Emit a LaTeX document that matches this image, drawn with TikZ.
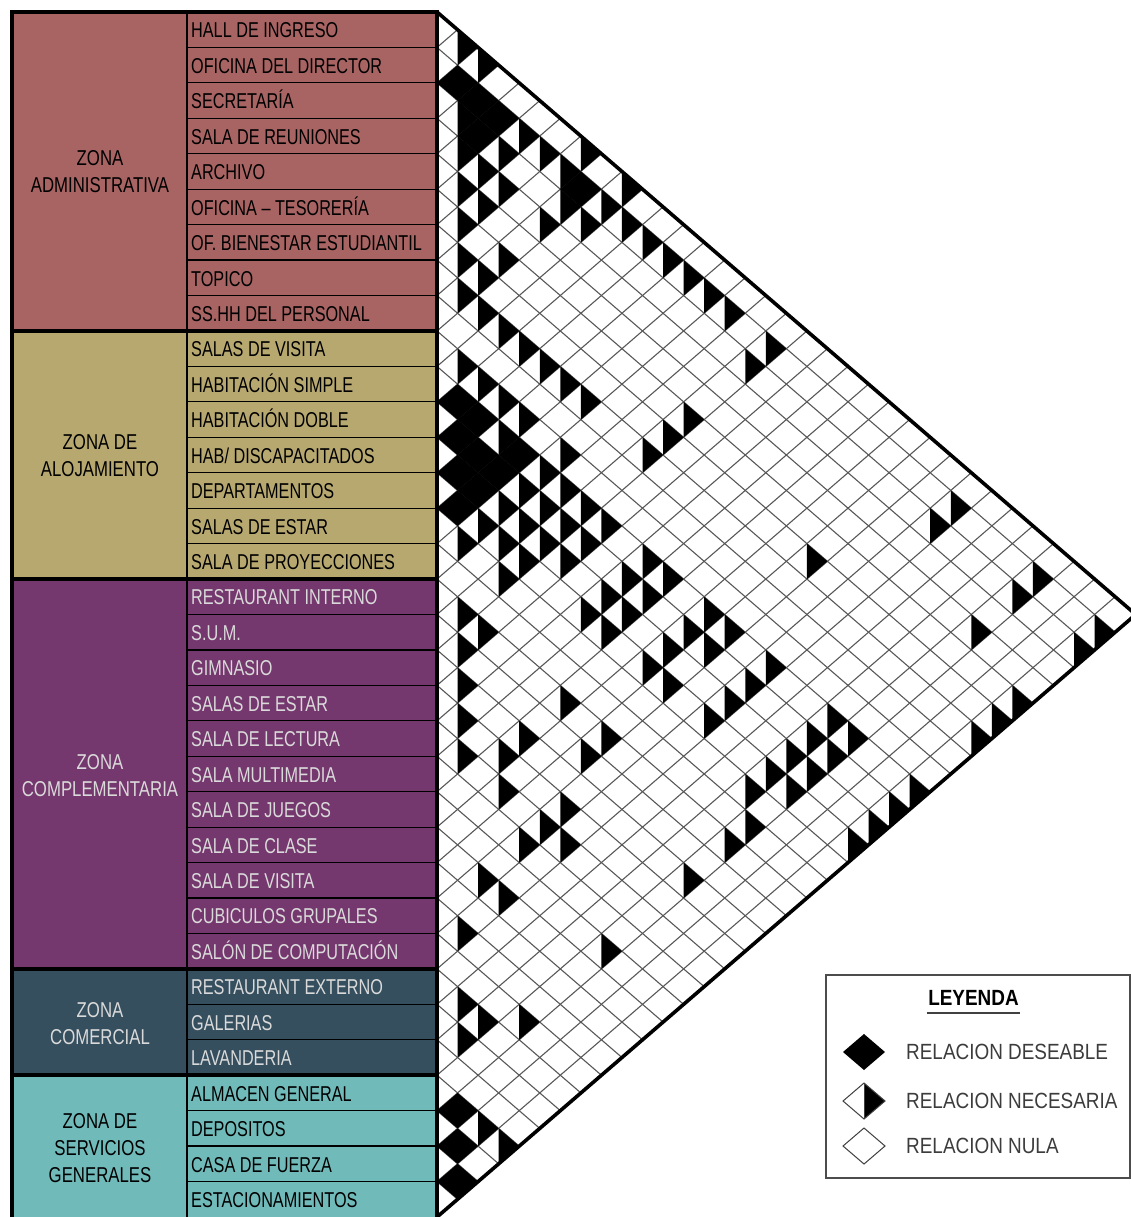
\documentclass[tikz,border=0pt]{standalone}
\usepackage{fontspec}
\setmainfont{Liberation Sans}
\newfontfamily\narrowsf[FakeStretch=0.755]{Liberation Sans}
\newfontfamily\zonesf[FakeStretch=0.78]{Liberation Sans}
\newfontfamily\legendsf[FakeStretch=0.86]{Liberation Sans}

\definecolor{admfill}{RGB}{168,99,99}
\definecolor{alofill}{RGB}{183,168,112}
\definecolor{cmpfill}{RGB}{117,56,110}
\definecolor{comfill}{RGB}{53,79,95}
\definecolor{serfill}{RGB}{113,186,186}
\definecolor{lighttxt}{RGB}{218,218,218}
\definecolor{meshgray}{RGB}{88,88,88}
\definecolor{legtxt}{RGB}{60,60,60}

% relation cells of the triangular matrix: pair (i,j), i<j
\newcommand\pairN[2]{%
  \pgfmathsetmacro\pcx{437+(#2-#1)*20.55}%
  \pgfmathsetmacro\pcy{12+(#1+#2-1)*17.72}%
  \fill[black] (\pcx,\pcy-17.72) -- (\pcx+20.55,\pcy) -- (\pcx,\pcy+17.72) -- cycle;}
\newcommand\pairD[2]{%
  \pgfmathsetmacro\pcx{437+(#2-#1)*20.55}%
  \pgfmathsetmacro\pcy{12+(#1+#2-1)*17.72}%
  \fill[black] (\pcx-20.55,\pcy) -- (\pcx,\pcy-17.72) -- (\pcx+20.55,\pcy) -- (\pcx,\pcy+17.72) -- cycle;}

\begin{document}
\begin{tikzpicture}[x=1pt,y=-1pt,
  rowlabel/.style={anchor=base west, inner sep=0pt, font=\narrowsf\fontsize{21.5}{26}\selectfont},
  zonelabel/.style={align=center, inner sep=0pt, font=\zonesf\fontsize{21.5}{27}\selectfont},
  mesh/.style={meshgray, line width=1.1pt},
  frame/.style={black, line width=3.6pt},
  legitem/.style={anchor=west, inner sep=0pt, text=legtxt, font=\legendsf\fontsize{22}{26}\selectfont}]
\useasboundingbox (0,0) rectangle (1131,1217);
\clip (0,0) rectangle (1131,1217);
\fill[white] (0,0) rectangle (1131,1217);

% ---------- zone table ----------
\fill[admfill] (12,12) rectangle (437,{12+9*35.44});
\fill[alofill] (12,{12+9*35.44}) rectangle (437,{12+16*35.44});
\fill[cmpfill] (12,{12+16*35.44}) rectangle (437,{12+27*35.44});
\fill[comfill] (12,{12+27*35.44}) rectangle (437,{12+30*35.44});
\fill[serfill] (12,{12+30*35.44}) rectangle (437,1217);

\foreach \k in {1,...,33}
  \draw[black, line width=1.2pt] (187,{12+\k*35.44}) -- (437,{12+\k*35.44});
\draw[black, line width=1.4pt] (187,12) -- (187,1217);
\foreach \k in {9,16,27,30}
  \draw[black, line width=4pt] (12,{12+\k*35.44}) -- (437,{12+\k*35.44});
\draw[black, line width=4pt] (12,1217) -- (12,12) -- (437,12);

% room names
\foreach \t [count=\i] in {HALL DE INGRESO, OFICINA DEL DIRECTOR, SECRETARÍA,
  SALA DE REUNIONES, ARCHIVO, OFICINA – TESORERÍA, OF. BIENESTAR ESTUDIANTIL,
  TOPICO, SS.HH DEL PERSONAL, SALAS DE VISITA, HABITACIÓN SIMPLE,
  HABITACIÓN DOBLE, HAB/ DISCAPACITADOS, DEPARTAMENTOS, SALAS DE ESTAR,
  SALA DE PROYECCIONES}
  \node[rowlabel] (room\i) at (191,{12+(\i-0.5)*35.44+8.2}) {\t};
\foreach \t [count=\n from 17] in {RESTAURANT INTERNO, S.U.M., GIMNASIO,
  SALAS DE ESTAR, SALA DE LECTURA, SALA MULTIMEDIA, SALA DE JUEGOS,
  SALA DE CLASE, SALA DE VISITA, CUBICULOS GRUPALES, SALÓN DE COMPUTACIÓN,
  RESTAURANT EXTERNO, GALERIAS, LAVANDERIA}
  \node[rowlabel, text=lighttxt] (room\n) at (191,{12+(\n-0.5)*35.44+8.2}) {\t};
\foreach \t [count=\n from 31] in {ALMACEN GENERAL, DEPOSITOS, CASA DE FUERZA,
  ESTACIONAMIENTOS}
  \node[rowlabel] (room\n) at (191,{12+(\n-0.5)*35.44+8.2}) {\t};

% zone names
\node[zonelabel] (zoneadm) at (100,172) {ZONA\\ADMINISTRATIVA};
\node[zonelabel] (zonealo) at (100,456) {ZONA DE\\ALOJAMIENTO};
\node[zonelabel, text=lighttxt] (zonecmp) at (100,776) {ZONA\\COMPLEMENTARIA};
\node[zonelabel, text=lighttxt] (zonecom) at (100,1024) {ZONA\\COMERCIAL};
\node[zonelabel] (zoneser) at (100,1148) {ZONA DE\\SERVICIOS\\GENERALES};

% ---------- relation matrix mesh ----------
\foreach \k in {1,...,33} {
  \draw[mesh] (437,{12+\k*35.44}) -- ++({(34-\k)*20.55},{(34-\k)*17.72});
  \draw[mesh] (437,{12+\k*35.44}) -- ++({\k*20.55},{-\k*17.72});
}

% desirable relations (full diamonds)
\foreach \i/\j in {2/3,2/4,2/5,3/5,2/9,
  11/12,12/13,13/14,14/15,11/13,12/14,13/15,12/15,11/15,
  31/32,32/33,33/34}
  \pairD{\i}{\j};

% necessary relations (right half filled)
\foreach \i/\j in {1/2,1/3,1/8,1/10,
  2/6,2/7,2/8,2/10,2/11,2/12,2/13,2/14,2/15,2/16,2/18,2/27,2/31,2/34,
  3/4,3/6,3/9,3/10,3/18,3/27,3/31,3/34,
  4/5,4/6,4/7,4/9,
  5/6,5/7,5/31,
  6/7,6/9,6/18,6/34,
  7/8,7/9,7/18,7/25,7/34,
  8/9,8/10,8/11,8/12,8/13,8/14,8/15,8/18,8/34,
  10/11,10/12,10/13,10/14,10/16,
  11/14,11/16,11/17,11/18,11/19,11/21,11/22,11/24,11/25,11/27,11/30,11/31,11/34,
  12/16,12/17,12/18,12/19,12/21,12/22,12/24,12/25,12/27,12/30,12/31,12/34,
  13/16,13/17,13/18,13/19,13/21,13/22,13/24,13/27,13/30,13/31,13/34,
  14/16,14/17,14/18,14/21,14/22,14/24,14/25,14/27,14/30,14/31,14/34,
  15/16,15/18,15/30,
  16/31,
  17/18,17/19,17/23,17/25,17/31,
  18/19,18/25,
  19/20,19/23,19/31,
  20/21,20/23,20/26,
  21/22,21/24,21/26,21/27,
  22/26,23/31,24/26,24/27,26/27,27/31,
  28/29,28/30,29/30,
  31/33,31/34}
  \pairN{\i}{\j};

% outer frame of the matrix
\draw[frame, line join=miter] (437,12) -- (1135.7,614.5) -- (437,1217);
\draw[frame] (437,10) -- (437,1217);

% ---------- legend ----------
\draw[black!70, line width=1.3pt, fill=white] (826,975) rectangle (1130,1178);
\node[inner sep=0pt, font=\legendsf\bfseries\fontsize{22}{26}\selectfont] (legtitle) at (973.5,998) {LEYENDA};
\draw[black!75, line width=2pt] (927,1013) -- (1020,1013);

\fill[black] (843,1052) -- (864,1034) -- (885,1052) -- (864,1070) -- cycle;
\node[legitem] (legdes) at (906,1052) {RELACION DESEABLE};

\fill[black] (864,1083) -- (885,1101) -- (864,1119) -- cycle;
\draw[black!75, line width=1pt] (843,1101) -- (864,1083) -- (885,1101) -- (864,1119) -- cycle;
\draw[black!75, line width=1pt] (864,1083) -- (864,1119);
\node[legitem] (legnec) at (906,1101) {RELACION NECESARIA};

\draw[black!75, line width=1pt] (843,1146) -- (864,1128) -- (885,1146) -- (864,1164) -- cycle;
\node[legitem] (legnul) at (906,1146) {RELACION NULA};
\end{tikzpicture}
\end{document}
